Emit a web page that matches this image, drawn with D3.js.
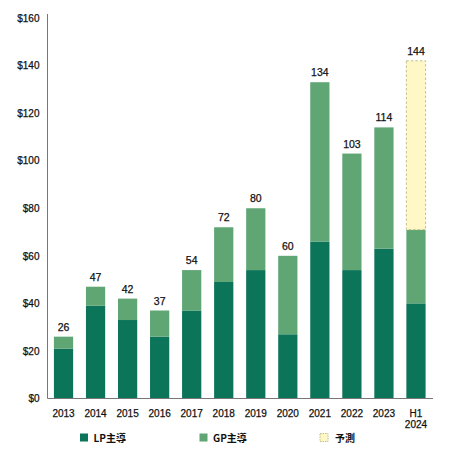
<!DOCTYPE html>
<html>
<head>
<meta charset="utf-8">
<script src="https://cdn.jsdelivr.net/npm/d3@7"></script>
<style>
  html, body { margin: 0; padding: 0; background: #fff; }
  text { font-family: "Liberation Sans", "Noto Sans CJK JP", sans-serif; }
  .num { stroke: #111; stroke-width: 0.25px; }
</style>
</head>
<body>
<svg width="450" height="452"></svg>
<script>
// chart data
const years = ['2013', '2014', '2015', '2016', '2017', '2018', '2019', '2020', '2021', '2022', '2023', 'H1\n2024'];
const lpLed = [21, 39, 33, 26, 37, 49, 54, 27, 66, 54, 63, 40];
const gpLed = [5, 8, 9, 11, 17, 23, 26, 33, 67, 49, 51, 31];
const forecast = [0, 0, 0, 0, 0, 0, 0, 0, 0, 0, 0, 71];
const totals = [26, 47, 42, 37, 54, 72, 80, 60, 134, 103, 114, 144];
const yTicks = [0, 20, 40, 60, 80, 100, 120, 140, 160];
const legendItems = ['LP主導', 'GP主導', '予測'];

const colors = { lp: '#0b7459', gp: '#5fa674', fc: '#fff8c6' };

const svg = d3.select('svg');
const plotLeft = 47.5, plotRight = 432, plotTop = 18, plotBottom = 398.5;

const x = d3.scaleBand().domain(years).range([plotLeft, plotRight]).paddingInner(0.4).paddingOuter(0.2);
const y = d3.scaleLinear().domain([0, 160]).range([plotBottom, plotTop]);

// stacked bars
const rows = years.map((yr, i) => ({ year: yr, lp: lpLed[i], gp: gpLed[i], fc: forecast[i] }));
const stack = d3.stack().keys(['lp', 'gp', 'fc'])(rows);

svg.append('g')
  .selectAll('g')
  .data(stack)
  .join('g')
  .attr('fill', (d) => colors[d.key])
  .selectAll('rect')
  .data((d) => d.filter((p) => p[1] > p[0]).map((p) => Object.assign(p, { key: d.key })))
  .join('rect')
  .attr('x', (d) => x(d.data.year))
  .attr('y', (d) => y(d[1]))
  .attr('width', x.bandwidth())
  .attr('height', (d) => y(d[0]) - y(d[1]))
  .attr('stroke', (d) => (d.key === 'fc' ? '#c2bf8c' : 'none'))
  .attr('stroke-width', 1)
  .attr('stroke-dasharray', (d) => (d.key === 'fc' ? '2.5,2' : null));

// value labels above each bar
svg.append('g')
  .selectAll('text')
  .data(rows)
  .join('text')
  .attr('class', 'num')
  .attr('x', (d) => x(d.year) + x.bandwidth() / 2)
  .attr('y', (d) => y(d.lp + d.gp + d.fc) - 6)
  .attr('text-anchor', 'middle')
  .attr('font-size', 10.5)
  .attr('fill', '#111')
  .text((d, i) => totals[i]);

// y axis
const yAxis = svg.append('g')
  .attr('transform', `translate(${plotLeft},0)`)
  .call(d3.axisLeft(y).tickValues(yTicks).tickSize(0).tickPadding(8).tickFormat((d) => '$' + d));
yAxis.select('.domain').attr('stroke', '#777').attr('d', `M0,${plotTop - 4}V${plotBottom}`);
yAxis.selectAll('text').attr('class', 'num').attr('font-size', 10).attr('fill', '#111')
  .style('font-family', '"Liberation Sans", sans-serif');

// x axis
const xAxis = svg.append('g')
  .attr('transform', `translate(0,${plotBottom})`)
  .call(d3.axisBottom(x).tickSize(0).tickPadding(0));
xAxis.select('.domain').attr('stroke', '#777').attr('d', `M${plotLeft},0H${plotRight + 1}`);
xAxis.selectAll('text').attr('class', 'num').attr('font-size', 10).attr('fill', '#111')
  .style('font-family', '"Liberation Sans", sans-serif')
  .attr('dy', null)
  .each(function (d) {
    const lines = d.split('\n');
    const t = d3.select(this).text(null);
    lines.forEach((ln, k) => t.append('tspan').attr('x', 0).attr('y', 18.5 + k * 11).text(ln));
  });

// legend
const legendX = [80, 199.5, 320];
const legend = svg.append('g')
  .selectAll('g')
  .data(legendItems)
  .join('g')
  .attr('transform', (d, i) => `translate(${legendX[i]},433.5)`);
legend.append('rect')
  .attr('width', 8)
  .attr('height', 8)
  .attr('fill', (d, i) => [colors.lp, colors.gp, colors.fc][i])
  .attr('stroke', (d, i) => (i === 2 ? '#c2bf8c' : 'none'))
  .attr('stroke-dasharray', '1.5,1');
legend.append('text')
  .attr('x', (d, i) => (i === 2 ? 15 : 13.5))
  .attr('y', 8)
  .attr('font-size', 10)
  .attr('font-weight', 'bold')
  .attr('fill', '#111')
  .style('font-family', '"Noto Sans CJK JP", sans-serif')
  .text((d) => d);
</script>
</body>
</html>
